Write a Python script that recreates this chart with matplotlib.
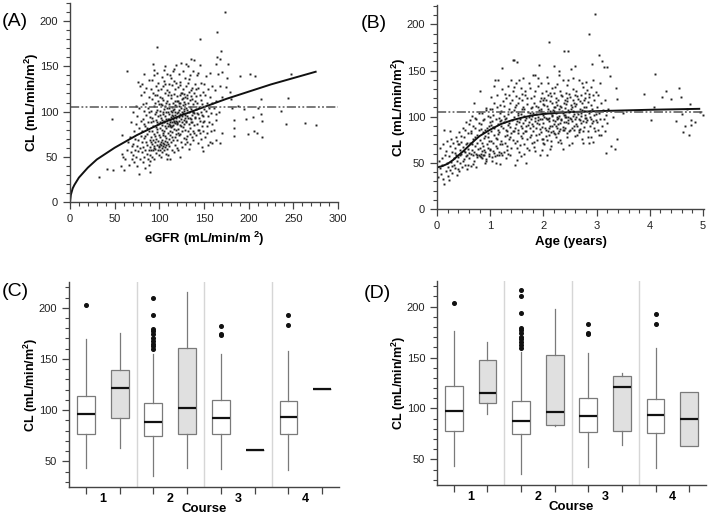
import matplotlib
matplotlib.use('Agg')
import matplotlib.pyplot as plt
from matplotlib.ticker import MultipleLocator, FixedLocator

plt.rcParams['font.family'] = ['Liberation Sans', 'DejaVu Sans']
plt.rcParams['mathtext.fontset'] = 'custom'
plt.rcParams['mathtext.bf'] = 'Liberation Sans:bold'
plt.rcParams['mathtext.rm'] = 'Liberation Sans'

# ---------------- data ----------------
# (A) eGFR vs CL
egfr_points = [
    (173.5, 210), (165, 188), (146, 180), (168.7, 167), (165, 160.6), (168, 158), (164, 153), (177, 152.6),
    (202, 142), (207, 139.7), (190, 139), (247, 141.5), (176, 137), (170.5, 144), (244, 115), (213.5, 113.7),
    (175, 127.6), (179.5, 121.8), (170, 116.6), (180, 113.7), (188.4, 105.6), (181.7, 103.7), (195, 102.6),
    (210.8, 103.7), (236, 100.5), (164, 97.5), (214, 96.8), (183.6, 91), (197, 92), (205, 93.9), (215, 90),
    (241.5, 86), (263, 87), (275.7, 85), (183.6, 82), (206, 79), (209, 76), (199, 74.8), (183.6, 72.6),
    (214.5, 72.2), (170, 76.6), (158.5, 65.3), (163.4, 68), (168, 65.3), (149, 56.5), (153.6, 76),
    (97.4, 171.3), (63.4, 144.5), (92.9, 153), (46.6, 91.9), (32.8, 27.1), (41, 36), (47.8, 35), (56.7, 39.6),
    (60.4, 35.3), (57.8, 53.5), (59.7, 50), (77.6, 30.6), (89.5, 32.9), (88, 41.3), (68.3, 87.9), (58.6, 74.3),
    (76.1, 133), (78.3, 128),
    (62, 48), (64, 58), (65, 66), (66, 41), (67, 72), (68, 55), (69, 62), (69.5, 47),
    (70.5, 52), (71, 64), (71.5, 78), (72, 44), (72.5, 58), (73, 70), (73.5, 86), (74, 50), (74.5, 62), (75, 95),
    (75.5, 40), (76, 68), (76.5, 56), (77, 82), (77.5, 104), (78, 47), (78.5, 60), (79, 73), (79.5, 118),
    (79, 90), (74, 106), (71, 99),
    (80.2, 55), (80.5, 66), (81, 78), (81.3, 44), (81.7, 92), (82, 61), (82.4, 101), (82.8, 50), (83, 71),
    (83.4, 122), (83.8, 58), (84.1, 84), (84.5, 38), (84.9, 66), (85.2, 96), (85.6, 110), (86, 53), (86.3, 75),
    (86.7, 63), (87, 88), (87.4, 47), (87.7, 104), (88.1, 57), (88.5, 79), (88.8, 116), (89.1, 68), (89.4, 94),
    (89.7, 52), (80.9, 130), (83, 141), (85.5, 126), (87.9, 135), (89.3, 61), (86.2, 82), (84.4, 73),
    (82.6, 86), (88.6, 99), (81.9, 108),
    (90.1, 45), (90.3, 58), (90.6, 72), (90.8, 88), (91, 101), (91.3, 114), (91.5, 64), (91.8, 50), (92, 79),
    (92.3, 93), (92.5, 121), (92.8, 57), (93, 68), (93.3, 84), (93.5, 106), (93.8, 62), (94, 140), (94.3, 48),
    (94.5, 75), (94.8, 97), (95, 59), (95.3, 110), (95.5, 66), (95.8, 83), (96, 128), (96.3, 54), (96.5, 70),
    (96.8, 91), (97, 63), (97.3, 102), (97.5, 77), (97.8, 118), (98, 58), (98.3, 86), (98.5, 132), (98.8, 67),
    (99, 95), (99.3, 52), (99.5, 74), (99.8, 108), (90.5, 125), (92.1, 135), (93.9, 146), (95.6, 118),
    (97.1, 143), (98.9, 124), (91.2, 66), (93.1, 90), (94.6, 60), (96.2, 99), (97.7, 88), (99.2, 62),
    (95.1, 73), (96.9, 81), (98.6, 112),
    (100.1, 61), (100.3, 64), (100.5, 72), (100.7, 88), (100.9, 101), (101.1, 116), (101.3, 58), (101.5, 66),
    (101.7, 93), (101.9, 125), (102.1, 50), (102.3, 63), (102.5, 80), (102.7, 107), (102.9, 138), (103.1, 60),
    (103.3, 68), (103.5, 85), (103.7, 97), (103.9, 113), (104.1, 62), (104.3, 65), (104.5, 74), (104.7, 90),
    (104.9, 146), (105.1, 57), (105.3, 64), (105.5, 78), (105.7, 103), (105.9, 120), (106.1, 61), (106.3, 67),
    (106.5, 84), (106.7, 95), (106.9, 131), (107.1, 53), (107.3, 63), (107.5, 71), (107.7, 99), (107.9, 110),
    (108.1, 59), (108.3, 66), (108.5, 87), (108.7, 104), (108.9, 142), (109.1, 48), (109.3, 64), (109.5, 76),
    (109.7, 92), (109.9, 118), (100.6, 96), (101.6, 108), (102.6, 91), (103.6, 76), (104.6, 128), (105.6, 88),
    (106.6, 106), (107.6, 82), (108.6, 124), (109.6, 100), (101.2, 82), (102.8, 115), (104.2, 100),
    (105.4, 134), (106.8, 73), (107.4, 92), (108.2, 112), (109.4, 84), (103.2, 55), (106.2, 150),
    (110.1, 52), (110.3, 70), (110.5, 86), (110.7, 97), (110.9, 108), (111.1, 122), (111.3, 62), (111.5, 79),
    (111.7, 91), (111.9, 140), (112.1, 47), (112.3, 74), (112.5, 88), (112.7, 101), (112.9, 115), (113.1, 66),
    (113.3, 83), (113.5, 94), (113.7, 105), (113.9, 129), (114.1, 58), (114.3, 77), (114.5, 89), (114.7, 99),
    (114.9, 145), (115.1, 69), (115.3, 85), (115.5, 92), (115.7, 110), (115.9, 119), (116.1, 55), (116.3, 81),
    (116.5, 90), (116.7, 103), (116.9, 134), (117.1, 72), (117.3, 87), (117.5, 96), (117.7, 112), (117.9, 125),
    (118.1, 63), (118.3, 80), (118.5, 93), (118.7, 106), (118.9, 151), (119.1, 75), (119.3, 86), (119.5, 98),
    (119.7, 117), (119.9, 60), (110.4, 92), (111.4, 104), (112.4, 85), (113.4, 118), (114.4, 96), (115.4, 102),
    (116.4, 88), (117.4, 107), (118.4, 90), (119.4, 112), (110.8, 130), (112.6, 137), (114.6, 84), (116.6, 147),
    (118.6, 132), (111.8, 84), (113.8, 72), (115.8, 95), (117.8, 100), (119.8, 87),
    (120.1, 68), (120.3, 88), (120.5, 99), (120.7, 112), (120.9, 127), (121.1, 57), (121.3, 81), (121.5, 94),
    (121.7, 106), (121.9, 142), (122.1, 74), (122.3, 90), (122.5, 102), (122.7, 118), (122.9, 50), (123.1, 85),
    (123.3, 97), (123.5, 109), (123.7, 133), (123.9, 66), (124.1, 92), (124.3, 104), (124.5, 121), (124.7, 154),
    (124.9, 78), (125.1, 88), (125.3, 100), (125.5, 114), (125.7, 61), (125.9, 95), (126.1, 107), (126.3, 125),
    (126.5, 83), (126.7, 98), (126.9, 145), (127.1, 71), (127.3, 91), (127.5, 111), (127.7, 119), (127.9, 86),
    (128.1, 103), (128.3, 137), (128.5, 64), (128.7, 96), (128.9, 116), (129.1, 80), (129.3, 108), (129.5, 128),
    (129.7, 90), (129.9, 153), (120.6, 76), (122.6, 129), (124.6, 84), (126.6, 115), (128.6, 93), (121.6, 110),
    (123.6, 75), (125.6, 120), (127.6, 101), (129.6, 70),
    (130.1, 89), (130.4, 104), (130.7, 118), (131, 66), (131.3, 95), (131.6, 132), (131.9, 78), (132.2, 109),
    (132.5, 150), (132.8, 86), (133.1, 99), (133.4, 122), (133.7, 59), (134, 93), (134.3, 113), (134.6, 140),
    (134.9, 82), (135.2, 103), (135.5, 117), (135.8, 158), (136.1, 72), (136.4, 96), (136.7, 126), (137, 88),
    (137.3, 108), (137.6, 145), (137.9, 68), (138.2, 100), (138.5, 121), (138.8, 157), (139.1, 85), (139.4, 112),
    (139.7, 94), (130.6, 73), (131.5, 115), (132.4, 93), (133.3, 136), (134.2, 75), (135.1, 124), (136, 88),
    (136.9, 114), (137.8, 79), (138.7, 98), (139.6, 130), (133.9, 105), (135.7, 92), (137.5, 100), (139.2, 76),
    (131.2, 102), (134.8, 64),
    (140.2, 93), (140.6, 117), (141, 74), (141.4, 103), (141.8, 140), (142.2, 86), (142.6, 110), (143, 65),
    (143.4, 97), (143.8, 126), (144.2, 80), (144.6, 105), (145, 152), (145.4, 90), (145.8, 118), (146.2, 70),
    (146.6, 99), (147, 132), (147.4, 84), (147.8, 108), (148.2, 61), (148.6, 95), (149, 122), (149.4, 78),
    (149.8, 103), (140.8, 125), (142.9, 80), (144.9, 93), (146.9, 113), (148.9, 88), (141.7, 98), (143.7, 143),
    (145.7, 76), (147.7, 96), (149.6, 131),
    (150.5, 90), (151, 118), (151.5, 72), (152, 101), (152.5, 139), (153, 84), (153.5, 110), (154, 95),
    (154.5, 125), (155, 63), (155.5, 104), (156, 88), (156.5, 143), (157, 116), (157.5, 78), (158, 98),
    (158.5, 128), (159, 109), (159.5, 86), (156.8, 66),
    (161, 104), (162, 124), (163, 91), (164, 112), (166, 141), (167, 100), (168, 128), (161.5, 80),
]
egfr_fit_x = [0, 1, 3, 5, 10, 20, 30, 50, 75, 100, 125, 150, 175, 200, 225, 250, 275]
egfr_fit_y = [0, 8, 15, 19, 27, 38, 47, 60, 74, 86, 96, 105, 114, 122, 130, 137, 144]

# (B) age vs CL
age_points = [
    (0.02, 35), (0.03, 52), (0.05, 44), (0.06, 66), (0.08, 38), (0.09, 55), (0.1, 48), (0.11, 32), (0.12, 70),
    (0.126, 85.7), (0.14, 27), (0.15, 58), (0.16, 41), (0.17, 63), (0.18, 50), (0.19, 74),
    (0.2, 36), (0.21, 45), (0.22, 31), (0.23, 57), (0.24, 68), (0.25, 42), (0.26, 76), (0.27, 51), (0.28, 62),
    (0.29, 39), (0.3, 72), (0.31, 48), (0.32, 55), (0.33, 66), (0.34, 44), (0.35, 78), (0.36, 59), (0.37, 37),
    (0.38, 52), (0.39, 70), (0.24, 84), (0.28, 47), (0.33, 61), (0.37, 74), (0.39, 43),
    (0.4, 56), (0.41, 83), (0.42, 41), (0.43, 64), (0.44, 50), (0.45, 73), (0.46, 60), (0.47, 45), (0.48, 88),
    (0.49, 67), (0.5, 54), (0.51, 78), (0.52, 62), (0.53, 48), (0.54, 94), (0.55, 70), (0.56, 58), (0.57, 43),
    (0.58, 82), (0.59, 65), (0.42, 70), (0.44, 58), (0.46, 79), (0.48, 52), (0.5, 63), (0.52, 86), (0.54, 57),
    (0.56, 72), (0.58, 48), (0.6, 61),
    (0.6, 92), (0.61, 55), (0.62, 72), (0.63, 47), (0.64, 84), (0.65, 64), (0.66, 101), (0.67, 58), (0.68, 76),
    (0.69, 52), (0.7, 115), (0.71, 68), (0.72, 88), (0.73, 60), (0.74, 97), (0.75, 56), (0.76, 80), (0.77, 65),
    (0.78, 104), (0.79, 58), (0.62, 96), (0.64, 60), (0.66, 70), (0.68, 90), (0.7, 62), (0.72, 78), (0.74, 46),
    (0.76, 59), (0.78, 86), (0.8, 128), (0.63, 82), (0.67, 49), (0.71, 99), (0.75, 71), (0.79, 93),
    (0.8, 57), (0.81, 75), (0.82, 92), (0.83, 60), (0.84, 104), (0.85, 55), (0.86, 83), (0.87, 68), (0.88, 58),
    (0.89, 98), (0.9, 62), (0.91, 79), (0.92, 107), (0.93, 52), (0.94, 88), (0.95, 66), (0.96, 101), (0.97, 57),
    (0.98, 74), (0.99, 94), (0.82, 56), (0.84, 63), (0.86, 59), (0.88, 77), (0.9, 86), (0.92, 54), (0.94, 70),
    (0.96, 82), (0.98, 60), (1.0, 108), (0.81, 66), (0.83, 87), (0.85, 72), (0.87, 96), (0.89, 64), (0.91, 50),
    (0.93, 109), (0.95, 78), (0.97, 90), (0.99, 64),
    (1.0, 65), (1.01, 84), (1.02, 121), (1.03, 56), (1.04, 95), (1.05, 72), (1.06, 102), (1.07, 61), (1.08, 88),
    (1.09, 140), (1.1, 50), (1.11, 77), (1.12, 110), (1.13, 66), (1.14, 92), (1.15, 140), (1.16, 58), (1.17, 83),
    (1.18, 104), (1.19, 70), (1.01, 91), (1.03, 108), (1.05, 63), (1.07, 80), (1.09, 57), (1.11, 97), (1.13, 124),
    (1.15, 86), (1.17, 62), (1.19, 113), (1.02, 74), (1.04, 52), (1.06, 89), (1.08, 115), (1.1, 68), (1.12, 59),
    (1.14, 81), (1.16, 99), (1.18, 49), (1.2, 90), (1.005, 100), (1.065, 133), (1.125, 76), (1.185, 95),
    (1.195, 61),
    (1.2, 106), (1.21, 74), (1.22, 130), (1.23, 152.6), (1.24, 88), (1.25, 62), (1.26, 112), (1.27, 79),
    (1.28, 97), (1.29, 55), (1.3, 120), (1.31, 85), (1.32, 68), (1.33, 103), (1.34, 133), (1.35, 76), (1.36, 93),
    (1.37, 58), (1.38, 115), (1.39, 82), (1.21, 96), (1.23, 70), (1.25, 101), (1.27, 125), (1.29, 86),
    (1.31, 64), (1.33, 91), (1.35, 108), (1.37, 78), (1.39, 140), (1.22, 59), (1.24, 117), (1.26, 94),
    (1.28, 72), (1.3, 99), (1.32, 80), (1.34, 60), (1.36, 124), (1.38, 89), (1.4, 105),
    (1.4, 66), (1.41, 96), (1.42, 128), (1.43, 161), (1.44, 84), (1.45, 161.4), (1.46, 110), (1.47, 48),
    (1.48, 92), (1.49, 136), (1.5, 74), (1.51, 159.2), (1.52, 102), (1.53, 86), (1.54, 120), (1.55, 62),
    (1.56, 97), (1.57, 131), (1.58, 79), (1.59, 108), (1.41, 118), (1.43, 75), (1.45, 100), (1.47, 88),
    (1.49, 113), (1.51, 66), (1.53, 104), (1.55, 94), (1.57, 57), (1.59, 125), (1.42, 85), (1.44, 107),
    (1.46, 71), (1.48, 122), (1.5, 95), (1.52, 82), (1.54, 140), (1.56, 69), (1.58, 103), (1.6, 88),
    (1.44, 132), (1.5, 53), (1.53, 115), (1.57, 90), (1.59, 77),
    (1.6, 118), (1.61, 142), (1.62, 93), (1.63, 70), (1.64, 108), (1.65, 85), (1.66, 128), (1.67, 50),
    (1.68, 99), (1.69, 114), (1.7, 76), (1.71, 91), (1.72, 136), (1.73, 64), (1.74, 104), (1.75, 88),
    (1.76, 120), (1.77, 97), (1.78, 72), (1.79, 110), (1.61, 82), (1.63, 101), (1.65, 124), (1.67, 90),
    (1.69, 66), (1.71, 105), (1.73, 94), (1.75, 131), (1.77, 80), (1.79, 101), (1.62, 111), (1.64, 60),
    (1.66, 96), (1.68, 84), (1.7, 120), (1.72, 100), (1.74, 78), (1.76, 109), (1.78, 92), (1.8, 145),
    (1.8, 84), (1.81, 104), (1.82, 122), (1.83, 67), (1.84, 95), (1.85, 145), (1.86, 88), (1.87, 112),
    (1.88, 75), (1.89, 100), (1.9, 133), (1.91, 155.5), (1.92, 92), (1.93, 58), (1.94, 117), (1.95, 83),
    (1.96, 106), (1.97, 97), (1.98, 126), (1.99, 71), (1.81, 90), (1.83, 115), (1.85, 99), (1.87, 80),
    (1.89, 142), (1.91, 107), (1.93, 87), (1.95, 120), (1.97, 64), (1.99, 102), (1.82, 73), (1.84, 128),
    (1.86, 103), (1.88, 93), (1.9, 110), (1.92, 81), (1.94, 98), (1.96, 137), (1.98, 89), (2.0, 114),
    (1.85, 63), (1.9, 96), (1.95, 108), (1.97, 76), (1.99, 118),
    (2.0, 93), (2.01, 120), (2.02, 70), (2.03, 104), (2.04, 128), (2.05, 86), (2.06, 112), (2.07, 58),
    (2.08, 97), (2.09, 137), (2.1, 80), (2.11, 180.9), (2.12, 106), (2.13, 90), (2.14, 122), (2.15, 68),
    (2.16, 101), (2.17, 115), (2.18, 84), (2.19, 155), (2.01, 100), (2.03, 88), (2.05, 118), (2.07, 75),
    (2.09, 108), (2.11, 95), (2.13, 126), (2.15, 83), (2.17, 102), (2.19, 92), (2.02, 113), (2.04, 79),
    (2.06, 97), (2.08, 124), (2.1, 88), (2.12, 65), (2.14, 104), (2.16, 131), (2.18, 96), (2.2, 110),
    (2.0, 76), (2.04, 99), (2.06, 143), (2.08, 85), (2.12, 117), (2.14, 74), (2.16, 90), (2.18, 107),
    (2.2, 82), (2.1, 99),
    (2.2, 126), (2.21, 95), (2.22, 110), (2.23, 78), (2.24, 104), (2.25, 135), (2.26, 88), (2.27, 118),
    (2.28, 99), (2.29, 150), (2.3, 84), (2.31, 112), (2.32, 93), (2.33, 124), (2.34, 71), (2.35, 106),
    (2.36, 140), (2.37, 89), (2.38, 115), (2.39, 171), (2.21, 81), (2.23, 116), (2.25, 100), (2.27, 92),
    (2.29, 108), (2.31, 75), (2.33, 96), (2.35, 122), (2.37, 104), (2.39, 86), (2.22, 132), (2.24, 90),
    (2.26, 113), (2.28, 82), (2.3, 101), (2.32, 128), (2.34, 97), (2.36, 65), (2.38, 94), (2.4, 118),
    (2.2, 106), (2.24, 120), (2.27, 73), (2.3, 145), (2.33, 110), (2.36, 86), (2.38, 102), (2.26, 98),
    (2.32, 87), (2.4, 100),
    (2.4, 109), (2.41, 88), (2.42, 126), (2.43, 100), (2.44, 78), (2.45, 117), (2.46, 93), (2.465, 171.3),
    (2.47, 140), (2.48, 105), (2.49, 84), (2.5, 121), (2.51, 97), (2.52, 152), (2.53, 110), (2.54, 72),
    (2.55, 101), (2.56, 130), (2.57, 90), (2.58, 115), (2.59, 155), (2.41, 102), (2.43, 114), (2.45, 82),
    (2.47, 96), (2.49, 125), (2.51, 108), (2.53, 88), (2.55, 118), (2.57, 103), (2.59, 79), (2.42, 94),
    (2.44, 134), (2.46, 107), (2.48, 69), (2.5, 99), (2.52, 113), (2.54, 95), (2.56, 106), (2.58, 86),
    (2.6, 124), (2.44, 120), (2.5, 86), (2.55, 142), (2.6, 98), (2.46, 100),
    (2.6, 112), (2.61, 92), (2.62, 128), (2.63, 105), (2.64, 80), (2.65, 119), (2.66, 98), (2.67, 140),
    (2.68, 108), (2.69, 87), (2.7, 124), (2.71, 101), (2.72, 76), (2.73, 115), (2.74, 95), (2.75, 132),
    (2.76, 106), (2.77, 89), (2.78, 120), (2.79, 99), (2.61, 114), (2.63, 90), (2.65, 103), (2.67, 83),
    (2.69, 117), (2.71, 93), (2.73, 107), (2.75, 72), (2.77, 111), (2.79, 126), (2.62, 100), (2.64, 122),
    (2.66, 86), (2.68, 96), (2.7, 104), (2.72, 136), (2.74, 85), (2.76, 118), (2.78, 102), (2.8, 94),
    (2.8, 110), (2.81, 138), (2.82, 96), (2.83, 116), (2.84, 78), (2.85, 104), (2.855, 189.5), (2.86, 125),
    (2.87, 90), (2.88, 100), (2.89, 77.8), (2.9, 132), (2.91, 108), (2.92, 157), (2.93, 95), (2.94, 73.1),
    (2.95, 118), (2.96, 88), (2.975, 211.2), (2.98, 103), (2.99, 127), (2.81, 99), (2.83, 85), (2.85, 121),
    (2.87, 106), (2.89, 113), (2.91, 93), (2.93, 124), (2.95, 102), (2.97, 84), (2.99, 96), (2.82, 129),
    (2.86, 72), (2.9, 98), (2.94, 140),
    (3.0, 110), (3.01, 94), (3.02, 123), (3.03, 86), (3.04, 167), (3.04, 79.7), (3.05, 104), (3.06, 137),
    (3.07, 97), (3.08, 115), (3.09, 80.4), (3.1, 90), (3.11, 160), (3.12, 107), (3.13, 153.8), (3.14, 98),
    (3.15, 85), (3.16, 118), (3.17, 60.6), (3.18, 102), (3.2, 153.8), (3.19, 93),
    (3.22, 108), (3.25, 143.6), (3.28, 67.9), (3.3, 100), (3.34, 65), (3.365, 131), (3.38, 119), (3.38, 75.3),
    (3.9, 124.7), (4.02, 95.9), (4.08, 111), (4.1, 146.5), (4.23, 121.8), (4.3, 128), (4.39, 119), (4.5, 94.8),
    (4.54, 131.5), (4.58, 121), (4.63, 82.9), (4.67, 89.4), (4.74, 80.4), (4.76, 114), (4.77, 91), (4.78, 96),
    (4.85, 93.9), (5.0, 102), (4.7, 108), (4.95, 105), (4.6, 103), (3.5, 104),
]
age_fit_x = [0, 0.1, 0.2, 0.3, 0.4, 0.5, 0.6, 0.7, 0.8, 1.0, 1.2, 1.4, 1.6, 1.8, 2.0, 2.5, 3.0, 4.0, 4.93]
age_fit_y = [45, 46.5, 49, 53, 58, 63, 68.5, 74, 79, 86, 92, 96, 99, 101.5, 103, 105, 106, 107.5, 108.5]
typical_cl = 105

# (C) and (D) box summaries per course: white box then grey box
course_labels = ['1', '2', '3', '4']
c_lo = [43.4, 63.1, 36.2, 43.4, 42.1, 61.1, 41.8, 120.4]
c_q1 = [76.5, 92.6, 74.9, 76.5, 76.5, 61.1, 76.5, 120.4]
c_med = [95.9, 121.7, 88.0, 101.7, 91.9, 61.1, 92.9, 120.4]
c_q3 = [113.5, 139.7, 107.3, 160.7, 109.9, 61.1, 108.9, 120.4]
c_hi = [169.5, 175.8, 155.0, 215.7, 154.8, 61.1, 158.0, 120.4]
c_fliers = [[202.6], [], [160, 162.5, 165, 168, 170.5, 174, 177, 179, 192.8, 209.8], [],
            [173.5, 174.8, 182], [], [183, 193.4], []]

d_lo = [43.4, 94.9, 36.2, 82.7, 42.4, 64.0, 41.8, 63.1]
d_q1 = [77.8, 105.3, 75.2, 84.0, 76.5, 78.2, 76.2, 63.1]
d_med = [97.2, 114.8, 88.0, 96.8, 92.2, 121.0, 93.2, 90.0]
d_q3 = [122.0, 147.9, 107.3, 152.5, 110.6, 131.5, 109.3, 116.5]
d_hi = [176.4, 165.6, 155.8, 198.0, 154.5, 135.0, 159.0, 116.5]
d_fliers = [[203], [], [159.7, 162.3, 165, 167.9, 170.5, 174.1, 176.7, 178.7, 193.4, 210.2, 216.4], [],
            [173, 174.5, 182.6], [], [183, 193], []]

# ---------------- figure ----------------
fig = plt.figure(figsize=(7.09, 5.16), dpi=100)
axA = fig.add_axes([0.0987, 0.6085, 0.378, 0.3857])
axB = fig.add_axes([0.6164, 0.595, 0.3766, 0.3953])
axC = fig.add_axes([0.0973, 0.0562, 0.381, 0.397])
axD = fig.add_axes([0.6164, 0.0601, 0.3794, 0.3953])

spine_col = '#444444'
ylab = r'CL (mL/min/m$^{\mathbf{2}}$)'


def style_axes(ax):
    for s in ['top', 'right']:
        ax.spines[s].set_visible(False)
    for s in ['left', 'bottom']:
        ax.spines[s].set_color(spine_col)
        ax.spines[s].set_linewidth(1.0)
    ax.tick_params(which='major', direction='out', length=5, width=0.9, color=spine_col,
                   labelsize=8, labelcolor='#222222')
    ax.tick_params(which='minor', direction='out', length=3, width=0.8, color=spine_col)


dash = (0, (6, 1.5, 1.2, 1.5, 1.2, 1.5))

# (A)
style_axes(axA)
xa, ya = zip(*egfr_points)
axA.plot(xa, ya, 's', ms=1.4, mew=0, color='#222222')
axA.plot(egfr_fit_x, egfr_fit_y, color='#111111', lw=1.4)
axA.axhline(typical_cl, color='#555555', lw=1.1, ls=dash)
axA.set_xlim(0, 300)
axA.set_ylim(0, 220)
axA.xaxis.set_major_locator(MultipleLocator(50))
axA.xaxis.set_minor_locator(MultipleLocator(10))
axA.yaxis.set_major_locator(FixedLocator([0, 50, 100, 150, 200]))
axA.yaxis.set_minor_locator(MultipleLocator(10))
axA.set_xlabel(r'eGFR (mL/min/m$^{\mathbf{\ 2}}$)', fontsize=9.5, fontweight='bold')
axA.set_ylabel(ylab, fontsize=9.5, fontweight='bold', labelpad=-1)

# (B)
style_axes(axB)
xb, yb = zip(*age_points)
axB.plot(xb, yb, 's', ms=1.4, mew=0, color='#222222')
axB.plot(age_fit_x, age_fit_y, color='#111111', lw=1.4)
axB.axhline(typical_cl, color='#555555', lw=1.1, ls=dash)
axB.set_xlim(0, 5.02)
axB.set_ylim(0, 221)
axB.xaxis.set_major_locator(MultipleLocator(1))
axB.xaxis.set_minor_locator(MultipleLocator(0.2))
axB.yaxis.set_major_locator(FixedLocator([0, 50, 100, 150, 200]))
axB.yaxis.set_minor_locator(MultipleLocator(10))
axB.set_xlabel('Age (years)', fontsize=9.5, fontweight='bold')
axB.set_ylabel(ylab, fontsize=9.5, fontweight='bold', labelpad=-1)


def box_panel(ax, lo, q1, med, q3, hi, fliers):
    style_axes(ax)
    positions = list(range(1, len(med) + 1))
    for sep in [2.5, 4.5, 6.5]:
        ax.axvline(sep, color='#d6d6d6', lw=1.0, zorder=0)
    stats = []
    for i in range(len(med)):
        stats.append(dict(whislo=lo[i], q1=q1[i], med=med[i], q3=q3[i], whishi=hi[i], fliers=fliers[i]))
    bp = ax.bxp(stats, positions=positions, widths=0.53, showcaps=False, patch_artist=True,
                boxprops=dict(edgecolor='#7a7a7a', linewidth=0.9),
                whiskerprops=dict(color='#7a7a7a', linewidth=0.9),
                medianprops=dict(color='#111111', linewidth=1.6),
                flierprops=dict(marker='o', markersize=2.6, markerfacecolor='#111111',
                                markeredgecolor='#111111'))
    for i, patch in enumerate(bp['boxes']):
        patch.set_facecolor('white' if i % 2 == 0 else '#e0e0e0')
    ax.set_xlim(0.5, 8.5)
    ax.set_ylim(25, 225)
    ax.xaxis.set_major_locator(FixedLocator(positions))
    ax.set_xticklabels([''] * len(positions))
    ax.xaxis.set_minor_locator(FixedLocator([1.5, 3.5, 5.5, 7.5]))
    ax.set_xticklabels(course_labels, minor=True)
    ax.tick_params(axis='x', which='minor', length=0, labelsize=9, pad=4)
    for t in ax.get_xticklabels(minor=True):
        t.set_fontweight('bold')
    ax.yaxis.set_major_locator(FixedLocator([50, 100, 150, 200]))
    ax.yaxis.set_minor_locator(MultipleLocator(10))
    ax.set_xlabel('Course', fontsize=9.5, fontweight='bold', labelpad=-1)
    ax.set_ylabel(ylab, fontsize=9, fontweight='bold', labelpad=-1)


box_panel(axC, c_lo, c_q1, c_med, c_q3, c_hi, c_fliers)
box_panel(axD, d_lo, d_q1, d_med, d_q3, d_hi, d_fliers)

# panel letters
fig.text(2 / 709, 1 - 21 / 516, '(A)', fontsize=14, va='center')
fig.text(361 / 709, 1 - 24 / 516, '(B)', fontsize=14, va='center')
fig.text(2 / 709, 1 - 291 / 516, '(C)', fontsize=14, va='center')
fig.text(364 / 709, 1 - 294 / 516, '(D)', fontsize=14, va='center')

fig.savefig('out.png', dpi=100)
